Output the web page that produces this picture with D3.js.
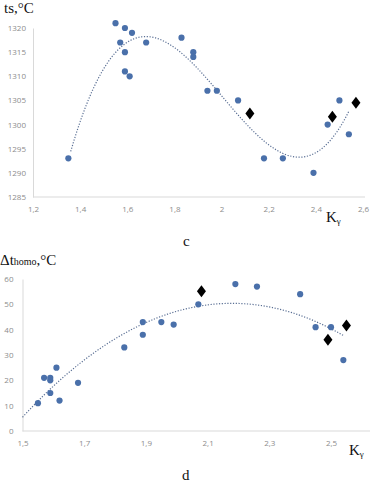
<!DOCTYPE html>
<html>
<head>
  <meta charset="utf-8">
  <title></title>
  <style>
    body { margin: 0; background: #fff; }
    .tick text { font-family: "Open Sans", sans-serif; font-size: 8px; fill: #8c8c8c; }
    .title { font-family: "Liberation Serif", serif; fill: #111; }
  </style>
</head>
<body>
  <script src="https://d3js.org/d3.v7.min.js" charset="utf-8"></script>
  <script type="text/javascript">
    // chart c
    var cX = [1.35, 1.55, 1.59, 1.62, 1.57, 1.68, 1.59, 1.59, 1.61, 1.83, 1.88, 1.88, 1.94, 1.98, 2.07, 2.18, 2.26, 2.39, 2.45, 2.50, 2.54];
    var cY = [1293, 1321, 1320, 1319, 1317, 1317, 1315, 1311, 1310, 1318, 1315, 1314, 1307, 1307, 1305, 1293, 1293, 1290, 1300, 1305, 1298];
    var cDiaX = [2.12, 2.47, 2.57];
    var cDiaY = [1302.3, 1301.6, 1304.5];
    var cTicksX = [1.2, 1.4, 1.6, 1.8, 2.0, 2.2, 2.4, 2.6];
    var cTicksY = [1285, 1290, 1295, 1300, 1305, 1310, 1315, 1320];

    // chart d
    var dX = [1.55, 1.57, 1.59, 1.59, 1.61, 1.59, 1.62, 1.68, 1.83, 1.89, 1.89, 1.95, 1.99, 2.07, 2.19, 2.26, 2.40, 2.45, 2.50, 2.54];
    var dY = [11, 21, 21, 20, 25, 15, 12, 19, 33, 38, 43, 43, 42, 50, 58, 57, 54, 41, 41, 28];
    var dDiaX = [2.08, 2.49, 2.55];
    var dDiaY = [55.2, 36, 41.6];
    var dTicksX = [1.5, 1.7, 1.9, 2.1, 2.3, 2.5];
    var dTicksY = [0, 10, 20, 30, 40, 50, 60];

    var width = 370, height = 484;
    var svg = d3.select('body').append('svg')
      .attr('width', width).attr('height', height);

    var fmt = function(d) { return String(+d.toFixed(1)).replace('.', ','); };

    // least squares polynomial, like the spreadsheet trendline
    function polyfit(xs, ys, deg) {
      var n = deg + 1, A = [], i, j, k;
      for (i = 0; i < n; i++) {
        A.push([]);
        for (j = 0; j <= n; j++) A[i].push(0);
      }
      xs.forEach(function(x, p) {
        for (i = 0; i < n; i++) {
          for (j = 0; j < n; j++) A[i][j] += Math.pow(x, i + j);
          A[i][n] += ys[p] * Math.pow(x, i);
        }
      });
      for (i = 0; i < n; i++) {
        var m = i;
        for (k = i + 1; k < n; k++) if (Math.abs(A[k][i]) > Math.abs(A[m][i])) m = k;
        var t = A[i]; A[i] = A[m]; A[m] = t;
        for (k = i + 1; k < n; k++) {
          var f = A[k][i] / A[i][i];
          for (j = i; j <= n; j++) A[k][j] -= f * A[i][j];
        }
      }
      var c = new Array(n);
      for (i = n - 1; i >= 0; i--) {
        var s = A[i][n];
        for (j = i + 1; j < n; j++) s -= A[i][j] * c[j];
        c[i] = s / A[i][i];
      }
      return function(x) {
        var v = 0;
        for (var q = 0; q < n; q++) v += c[q] * Math.pow(x, q);
        return v;
      };
    }

    function drawChart(o) {
      var x = d3.scaleLinear().domain(o.xDomain).range(o.xRange);
      var y = d3.scaleLinear().domain(o.yDomain).range(o.yRange);

      var gx = svg.append('g').attr('transform', 'translate(0,' + o.yRange[0] + ')')
        .call(d3.axisBottom(x).tickValues(o.ticksX).tickFormat(fmt).tickSize(0).tickPadding(9));
      gx.select('.domain').attr('stroke', '#d9d9d9').attr('d', 'M' + o.xRange[0] + ',0H' + o.axisEnd);

      var gy = svg.append('g').attr('transform', 'translate(' + o.xRange[0] + ',0)')
        .call(d3.axisLeft(y).tickValues(o.ticksY).tickFormat(d3.format('d')).tickSize(0).tickPadding(o.pad));
      gy.select('.domain').attr('stroke', '#d9d9d9');

      var fit = polyfit(o.px, o.py, o.deg);
      var xs = d3.range(o.fitFrom, o.fitTo + 0.0001, 0.01);
      svg.append('path')
        .datum(xs)
        .attr('fill', 'none')
        .attr('stroke', '#5a6f94')
        .attr('stroke-width', 1.2)
        .attr('stroke-dasharray', '1.2,1.6')
        .attr('d', d3.line().x(function(d) { return x(d); }).y(function(d) { return y(fit(d)); }));

      svg.append('g').selectAll('circle')
        .data(o.px)
        .enter().append('circle')
        .attr('cx', function(d) { return x(d); })
        .attr('cy', function(d, i) { return y(o.py[i]); })
        .attr('r', 3.1)
        .attr('fill', '#4a70aa');

      svg.append('g').selectAll('path')
        .data(o.dx)
        .enter().append('path')
        .attr('transform', function(d, i) { return 'translate(' + x(d) + ',' + y(o.dy[i]) + ')'; })
        .attr('d', 'M0,-6L4.5,0L0,6L-4.5,0Z')
        .attr('fill', '#000');
    }

    drawChart({
      xDomain: [1.2, 2.6], xRange: [33, 363], axisEnd: 365,
      yDomain: [1285, 1320], yRange: [197, 28], pad: 7,
      ticksX: cTicksX, ticksY: cTicksY,
      px: cX, py: cY, dx: cDiaX, dy: cDiaY,
      deg: 3, fitFrom: 1.36, fitTo: 2.54
    });

    drawChart({
      xDomain: [1.5, 2.5], xRange: [22.5, 331], axisEnd: 370,
      yDomain: [0, 60], yRange: [431, 279], pad: 9,
      ticksX: dTicksX, ticksY: dTicksY,
      px: dX, py: dY, dx: dDiaX, dy: dDiaY,
      deg: 2, fitFrom: 1.5, fitTo: 2.54
    });

    // titles
    svg.append('text').attr('class', 'title').attr('x', 4).attr('y', 13).attr('font-size', 15).text('ts,°C');
    var k1 = svg.append('text').attr('class', 'title').attr('x', 326).attr('y', 222).attr('font-size', 15).text('K');
    k1.append('tspan').attr('font-size', 9).attr('dy', 2).text('γ');
    svg.append('text').attr('class', 'title').attr('x', 183).attr('y', 246).attr('font-size', 15).text('c');

    var t2 = svg.append('text').attr('class', 'title').attr('x', 0).attr('y', 265).attr('font-size', 15).text('Δt');
    t2.append('tspan').attr('font-size', 10).text('homo');
    t2.append('tspan').text(',°C');
    var k2 = svg.append('text').attr('class', 'title').attr('x', 349).attr('y', 455).attr('font-size', 15).text('K');
    k2.append('tspan').attr('font-size', 9).attr('dy', 2).text('γ');
    svg.append('text').attr('class', 'title').attr('x', 182).attr('y', 480).attr('font-size', 15).text('d');
  </script>
</body>
</html>
